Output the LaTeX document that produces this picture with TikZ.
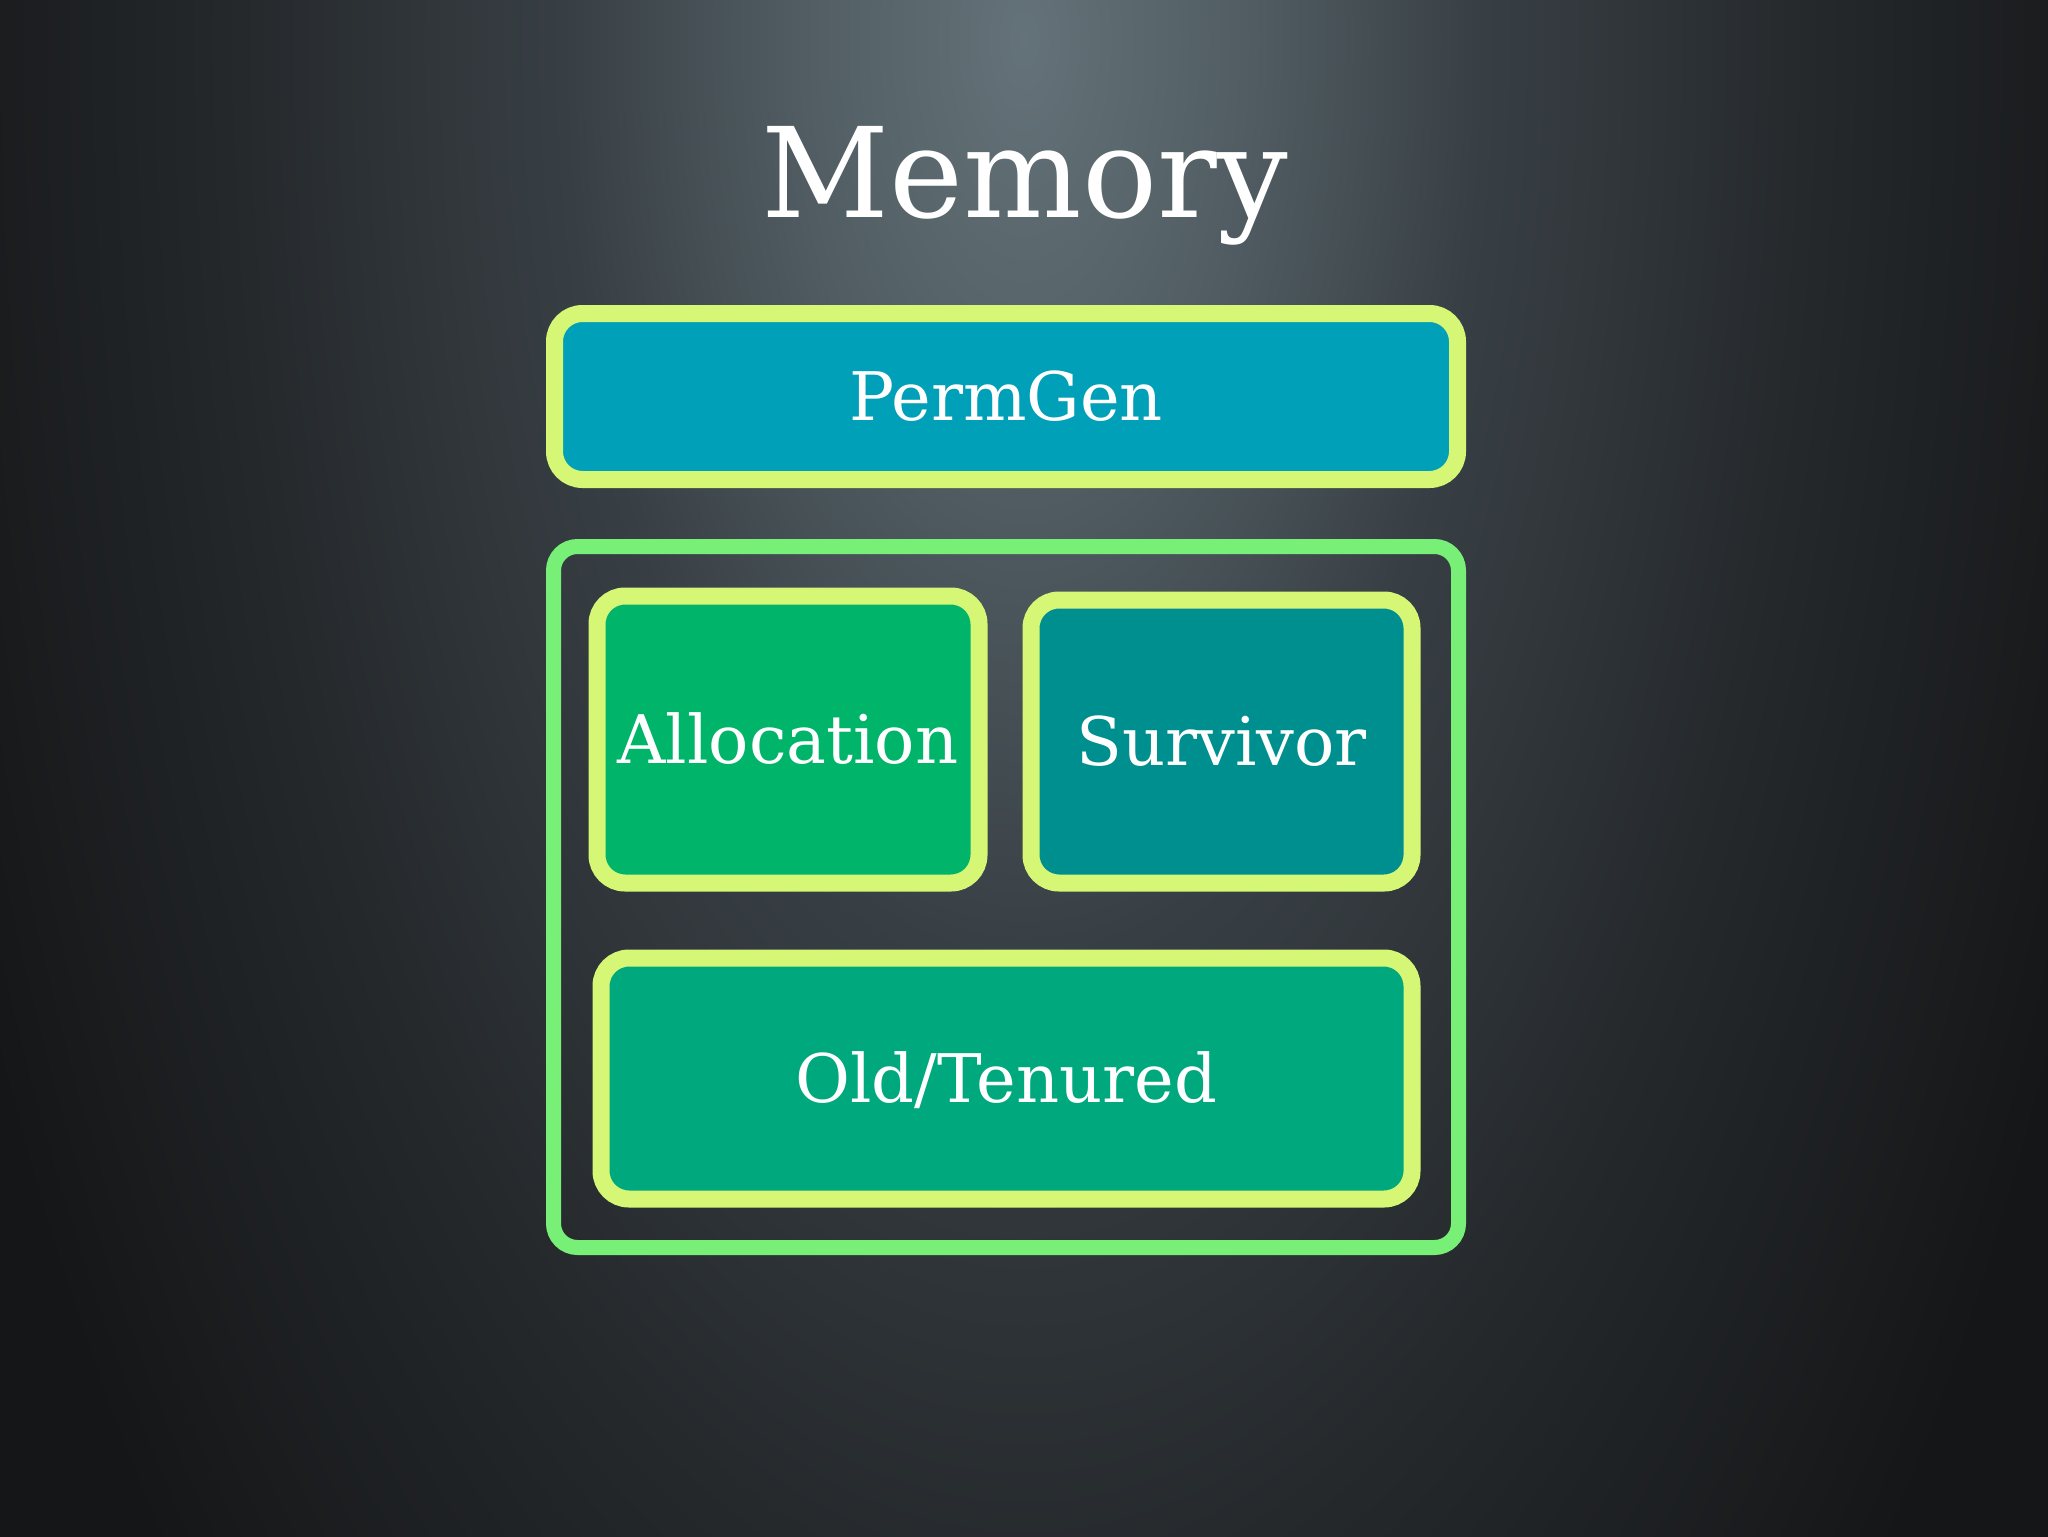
\documentclass[tikz,border=0pt]{standalone}
\usepackage{fontspec}
\setmainfont{DejaVu Serif}
\definecolor{bgdark}{RGB}{21,22,24}
\definecolor{g0}{RGB}{100,115,121}
\definecolor{g1}{RGB}{80,92,98}
\definecolor{g2}{RGB}{56,63,68}
\definecolor{g3}{RGB}{37,41,44}
\definecolor{lowglow}{RGB}{38,41,44}
\definecolor{lime}{RGB}{214,246,118}
\definecolor{frame}{RGB}{120,240,120}
\definecolor{permfill}{RGB}{0,160,184}
\definecolor{allocfill}{RGB}{0,180,106}
\definecolor{survfill}{RGB}{0,143,143}
\definecolor{oldfill}{RGB}{0,168,126}
\pgfdeclareradialshading{glow}{\pgfpoint{0bp}{0bp}}{%
  color(0bp)=(g0); color(5bp)=(g1); color(10bp)=(g2); color(17bp)=(g3); color(25bp)=(bgdark); color(50bp)=(bgdark)}
\pgfdeclareradialshading{glowlow}{\pgfpoint{0bp}{0bp}}{%
  color(0bp)=(lowglow); color(25bp)=(bgdark); color(50bp)=(bgdark)}
\tikzset{
  region/.style={draw=lime, line width=8.5pt, rounded corners=14pt, text=white,
    font=\fontsize{33.5}{38}\selectfont, text height=24.4pt, text depth=0pt, inner sep=0pt},
  container/.style={draw=frame, line width=7.5pt, rounded corners=12pt, inner sep=0pt},
}
\begin{document}
\begin{tikzpicture}[x=0.5pt,y=-0.5pt]
\useasboundingbox (0,0) rectangle (2048,1536);
\fill[bgdark] (-20,-20) rectangle (2068,1556);
\shade[shading=glowlow] (1024,1536) ellipse [x radius=800, y radius=800];
\shade[shading=glow] (1024,40) ellipse [x radius=1150, y radius=2300];
\node[text=white, anchor=base, font=\fontsize{62.5}{68}\selectfont] (title) at (1025,217) {Memory};
\node[region, fill=permfill, minimum width=451.5pt, minimum height=83pt] (perm) at (1006,396.5) {PermGen};
\node[container, minimum width=452.5pt, minimum height=350.5pt] (heap) at (1006,897) {};
\node[region, fill=allocfill, minimum width=191pt, minimum height=143.5pt] (alloc) at (788,739.5) {Allocation};
\node[region, fill=survfill, minimum width=190.5pt, minimum height=141.5pt] (surv) at (1221.5,741.5) {Survivor};
\node[region, fill=oldfill, minimum width=405.5pt, minimum height=120.5pt] (old) at (1006.5,1078.5) {Old/Tenured};
\end{tikzpicture}
\end{document}
